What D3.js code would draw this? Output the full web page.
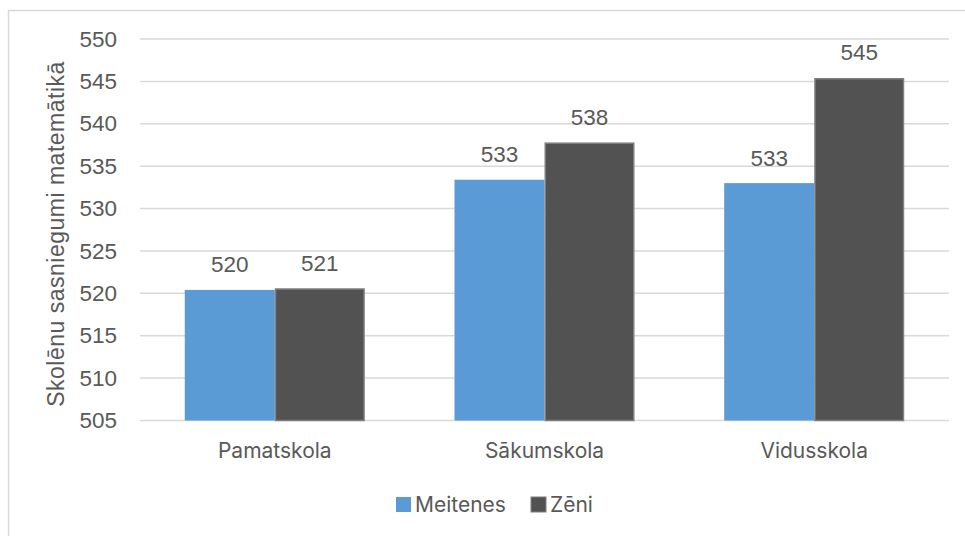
<!DOCTYPE html>
<html lang="lv">
<head>
    <meta charset="UTF-8">
    <title>Skolēnu sasniegumi matemātikā</title>
    <script src="https://d3js.org/d3.v7.min.js"></script>
    <style>
        body { margin: 0; background: #fff; }
        svg { display: block; }
    </style>
</head>
<body>
    <div id="chart"></div>
    <script type="text/javascript">
        // data
        const categories = ["Pamatskola", "Sākumskola", "Vidusskola"];
        const seriesNames = ["Meitenes", "Zēni"];
        const meitenes = [520.4, 533.4, 533.0];
        const zeni = [520.6, 537.8, 545.4];
        const yTicks = [505, 510, 515, 520, 525, 530, 535, 540, 545, 550];
        const colors = ["#5b9bd5", "#525252"];

        const W = 965, H = 536;
        const margin = { top: 39, right: 16, bottom: 115, left: 140 };
        const txt = "#595959";
        const arialish = "'Liberation Sans', Arial, sans-serif";
        const aptosish = "Inter, 'Noto Sans', sans-serif";

        const svg = d3.select("#chart").append("svg")
            .attr("width", W).attr("height", H);

        // chart area border
        svg.append("rect")
            .attr("x", 8.5).attr("y", 10.5)
            .attr("width", W).attr("height", H)
            .attr("fill", "none").attr("stroke", "#d9d9d9").attr("stroke-width", 1.5);

        const x0 = d3.scaleBand()
            .domain(categories)
            .range([margin.left, W - margin.right])
            .paddingInner(0.3325)
            .paddingOuter(0.166);
        const x1 = d3.scaleBand()
            .domain(seriesNames)
            .range([0, x0.bandwidth()]);
        const y = d3.scaleLinear()
            .domain([505, 550])
            .range([H - margin.bottom - 0.5, margin.top]);

        // gridlines
        svg.append("g")
            .selectAll("line")
            .data(yTicks)
            .join("line")
            .attr("x1", margin.left).attr("x2", W - margin.right)
            .attr("y1", d => y(d)).attr("y2", d => y(d))
            .attr("stroke", "#d9d9d9").attr("stroke-width", 1.5);

        // y axis labels
        const yAxis = svg.append("g")
            .attr("transform", "translate(" + margin.left + ",0)")
            .call(d3.axisLeft(y).tickValues(yTicks).tickSize(0).tickPadding(23));
        yAxis.select(".domain").remove();
        yAxis.selectAll("text")
            .attr("fill", txt)
            .style("font-family", arialish)
            .style("font-size", "22.5px");

        // y title
        svg.append("text")
            .attr("transform", "translate(64,234) rotate(-90)")
            .attr("text-anchor", "middle")
            .attr("fill", txt)
            .style("font-family", arialish)
            .style("font-size", "23px")
            .style("letter-spacing", "0.5px")
            .text("Skolēnu sasniegumi matemātikā");

        const rows = categories.map((c, i) => ({ cat: c, vals: [meitenes[i], zeni[i]] }));

        const groups = svg.append("g")
            .selectAll("g")
            .data(rows)
            .join("g")
            .attr("transform", d => "translate(" + x0(d.cat) + ",0)");

        groups.selectAll("rect")
            .data(d => d.vals.map((v, j) => ({ s: seriesNames[j], v: v, j: j })))
            .join("rect")
            .attr("x", d => x1(d.s) + (d.j ? 0.75 : 0))
            .attr("y", d => y(d.v) + (d.j ? 0.75 : 0))
            .attr("width", d => x1.bandwidth() - (d.j ? 1.5 : 0))
            .attr("height", d => y(505) - y(d.v) - (d.j ? 0.75 : 0))
            .attr("fill", d => colors[d.j])
            .attr("stroke", d => d.j ? "#7f7f7f" : "none")
            .attr("stroke-width", 1.5);

        // data labels
        groups.selectAll("text")
            .data(d => d.vals.map((v, j) => ({ s: seriesNames[j], v: v })))
            .join("text")
            .attr("x", d => x1(d.s) + x1.bandwidth() / 2)
            .attr("y", d => y(d.v) - 17.5)
            .attr("text-anchor", "middle")
            .attr("fill", txt)
            .style("font-family", arialish)
            .style("font-size", "22.5px")
            .text(d => d3.format(".0f")(d.v));

        // category labels
        svg.append("g")
            .selectAll("text")
            .data(categories)
            .join("text")
            .attr("x", d => x0(d) + x0.bandwidth() / 2)
            .attr("y", 458)
            .attr("text-anchor", "middle")
            .attr("fill", txt)
            .style("font-family", aptosish)
            .style("font-size", "21px")
            .text(d => d);

        // legend
        const legendX = [396, 531];
        const legend = svg.append("g")
            .selectAll("g")
            .data(seriesNames)
            .join("g")
            .attr("transform", (d, i) => "translate(" + legendX[i] + ",497)");
        legend.append("rect")
            .attr("width", 15).attr("height", 15)
            .attr("fill", (d, i) => colors[i])
            .attr("stroke", (d, i) => i ? "#7f7f7f" : "none");
        legend.append("text")
            .attr("x", 19).attr("y", 15)
            .attr("fill", txt)
            .style("font-family", aptosish)
            .style("font-size", "21px")
            .text(d => d);
    </script>
</body>
</html>
